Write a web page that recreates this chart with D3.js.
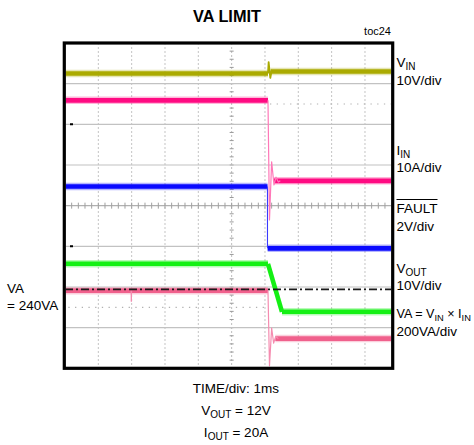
<!DOCTYPE html>
<html><head><meta charset="utf-8">
<script src="https://cdn.jsdelivr.net/npm/d3@7"></script>
<style>
body{margin:0;background:#fff}
svg{display:block}
text{font-family:"Liberation Sans",Arial,sans-serif;fill:#000}
</style>
</head><body>
<svg id="c" width="474" height="445"></svg>
<script>
// ---------------- data ----------------
const timeDomain = [-5, 5];            // ms, 1 ms/div
const divDomain = [-4, 4];             // vertical divisions
const gridTimes = [-4, -3, -2, -1, 1, 2, 3, 4];
const gridDivs = [-3, -2, -1, 1, 2, 3];
const startTime = -5, endTime = 4.8;

const vinLevels = [3.25, 3.30];
const vinTransient = [[1.09, 3.25], [1.11, 3.53], [1.16, 3.14], [1.20, 3.32], [1.24, 3.30]];
const iinLevels = [2.59, 0.61];
const iinTransient = [[1.09, 2.59], [1.135, -0.35], [1.20, 1.08], [1.27, 0.51], [1.33, 0.70], [1.40, 0.58], [1.46, 0.61]];
const faultLevels = [0.47, -1.05];
const faultTransient = [[1.075, 0.47], [1.075, -1.05]];
const voutLevels = [-1.43, -2.61];
const voutTransient = [[1.09, -1.43], [1.51, -2.61]];
const vaLevels = [-2.09, -3.27];
const vaTransient = [[1.09, -2.09], [1.135, -3.94], [1.20, -3.01], [1.26, -3.38], [1.32, -3.22], [1.40, -3.27]];
const vaGlitch = [[-3.02, -2.09], [-3.01, -2.36], [-3.00, -2.09]];
const afterStarts = {vin: 1.17, iin: 1.27, fault: 1.08, vout: 1.51, va: 1.31};
const vaLimitLevel = -2.06;
const halfDivMarks = [[2.5, 1.15, 4.8], [-2.5, -4.9, 1.0]];   // [level, from t, to t]
const groundMarks = [[2, -4.85], [-1, -4.85]];

const titleText = "VA LIMIT";
const tocText = "toc24";
const bottomLines = ["TIME/div: 1ms", ["V", "OUT", " = 12V"], ["I", "OUT", " = 20A"]];

// ---------------- layout ----------------
const svg = d3.select("#c");
const x = d3.scaleLinear().domain(timeDomain).range([65, 398.3]);
const y = d3.scaleLinear().domain(divDomain).range([368.3, 43]);
const frame = {x0: 64.3, x1: 392.7, y0: 43, y1: 368.3};

svg.append("clipPath").attr("id", "clip").append("rect")
  .attr("x", frame.x0 + 1.5).attr("y", frame.y0 + 1.5)
  .attr("width", frame.x1 - frame.x0 - 3).attr("height", frame.y1 - frame.y0 - 3);

const g = svg.append("g").attr("clip-path", "url(#clip)");

// grid: vertical dashed lines
g.selectAll(".vg").data(gridTimes).join("line")
  .attr("x1", d => x(d)).attr("x2", d => x(d))
  .attr("y1", frame.y0).attr("y2", frame.y1)
  .attr("stroke", "#c4c4c4").attr("stroke-width", 1).attr("stroke-dasharray", "2,2");
// center vertical
g.append("line").attr("x1", x(0)).attr("x2", x(0)).attr("y1", frame.y0).attr("y2", frame.y1)
  .attr("stroke", "#bdbdbd").attr("stroke-width", 1).attr("stroke-dasharray", "2,2");
const minorDivs = d3.range(-4, 4.001, 0.2);
g.selectAll(".vt").data(minorDivs).join("line")
  .attr("x1", x(0) - 2).attr("x2", x(0) + 2)
  .attr("y1", d => y(d)).attr("y2", d => y(d))
  .attr("stroke", "#9a9a9a").attr("stroke-width", 1);
// horizontal grid
g.selectAll(".hg").data(gridDivs).join("line")
  .attr("x1", frame.x0).attr("x2", frame.x1)
  .attr("y1", d => y(d)).attr("y2", d => y(d))
  .attr("stroke", "#c2c2c2").attr("stroke-width", 1.2);
g.append("line").attr("x1", frame.x0).attr("x2", frame.x1).attr("y1", y(0)).attr("y2", y(0))
  .attr("stroke", "#b0b0b0").attr("stroke-width", 1.4);
const minorTimes = d3.range(-5, 5.001, 0.2);
g.selectAll(".ht").data(minorTimes).join("line")
  .attr("x1", d => x(d)).attr("x2", d => x(d))
  .attr("y1", y(0) - 3).attr("y2", y(0) + 3)
  .attr("stroke", "#a0a0a0").attr("stroke-width", 1);
// half-division dotted marks
g.selectAll(".hd").data(halfDivMarks).join("line")
  .attr("x1", d => x(d[1])).attr("x2", d => x(d[2]))
  .attr("y1", d => y(d[0])).attr("y2", d => y(d[0]))
  .attr("stroke", "#b0b0b0").attr("stroke-width", 1.2).attr("stroke-dasharray", "1.3,5.4");
// ground markers
g.selectAll(".gm").data(groundMarks).join("line")
  .attr("x1", d => x(d[1])).attr("x2", d => x(d[1]) + 3)
  .attr("y1", d => y(d[0])).attr("y2", d => y(d[0]))
  .attr("stroke", "#000").attr("stroke-width", 2);

// traces
const line = d3.line().x(d => x(d[0])).y(d => y(d[1]));
function trace(levels, transient, color, thinColor, thinWidth, afterStart) {
  const t0 = transient[0][0];
  const before = [[startTime, levels[0]], [t0, levels[0]]];
  const after = [[afterStart, levels[1]], [endTime, levels[1]]];
  [before, after].forEach(seg => {
    g.append("path").attr("d", line(seg)).attr("fill", "none")
      .attr("stroke", color).attr("stroke-width", 7.5).attr("stroke-opacity", 0.3);
    g.append("path").attr("d", line(seg)).attr("fill", "none")
      .attr("stroke", color).attr("stroke-width", 4.6);
  });
  g.append("path").attr("d", line(transient)).attr("fill", "none")
    .attr("stroke", thinColor).attr("stroke-width", thinWidth).attr("stroke-linejoin", "round");
}
trace(vinLevels, vinTransient, "#aaaa00", "#aaaa00", 1.8, afterStarts.vin);
trace(iinLevels, iinTransient, "#ff0a82", "#ff78b8", 1.2, afterStarts.iin);
trace(faultLevels, faultTransient, "#0a0aff", "#3a3aff", 1.1, afterStarts.fault);
trace(voutLevels, voutTransient, "#14f014", "#14f014", 4.6, afterStarts.vout);
trace(vaLevels, vaTransient, "#f0608c", "#f58cb0", 1.2, afterStarts.va);
g.append("path").attr("d", line(vaGlitch)).attr("fill", "none")
  .attr("stroke", "#f58cb0").attr("stroke-width", 1);
// VA limit dash-dot
g.append("line").attr("x1", x(startTime)).attr("x2", x(endTime))
  .attr("y1", y(vaLimitLevel)).attr("y2", y(vaLimitLevel))
  .attr("stroke", "#1a1a1a").attr("stroke-width", 1.6).attr("stroke-dasharray", "8,3,2,3");

// frame
svg.append("rect").attr("x", frame.x0).attr("y", frame.y0)
  .attr("width", frame.x1 - frame.x0).attr("height", frame.y1 - frame.y0)
  .attr("fill", "none").attr("stroke", "#000").attr("stroke-width", 3.2);

// ---------------- text ----------------
svg.append("text").attr("x", 227).attr("y", 22).attr("text-anchor", "middle")
  .attr("font-size", 17).attr("font-weight", "bold")
  .attr("textLength", 68).attr("lengthAdjust", "spacingAndGlyphs").text(titleText);
svg.append("text").attr("x", 391).attr("y", 35).attr("text-anchor", "end")
  .attr("font-size", 11).text(tocText);

const FS = 13.5, SUB = 10;
function subText(xp, yp, parts, anchor, fs) {
  const t = svg.append("text").attr("x", xp).attr("y", yp).attr("font-size", fs || FS)
    .attr("text-anchor", anchor || "start");
  parts.forEach(p => {
    if (typeof p === "string") t.append("tspan").text(p);
    else t.append("tspan").attr("dy", p.dy).attr("font-size", p.s || fs || FS).text(p.t);
  });
  return t;
}
const LX = 396.5;
subText(LX, 67, ["V", {t: "IN", dy: 3, s: SUB}]);
subText(LX, 85, ["10V/div"]);
subText(LX, 155, ["I", {t: "IN", dy: 3, s: SUB}]);
subText(LX, 172, ["10A/div"]);
const ft = subText(LX, 213, ["FAULT"]);
const fw = ft.node().getComputedTextLength();
svg.append("line").attr("x1", LX).attr("x2", LX + fw).attr("y1", 199.5).attr("y2", 199.5)
  .attr("stroke", "#000").attr("stroke-width", 1);
subText(LX, 231, ["2V/div"]);
subText(LX, 273, ["V", {t: "OUT", dy: 3, s: SUB}]);
subText(LX, 290, ["10V/div"]);
subText(LX, 318, ["VA = V", {t: "IN", dy: 3, s: 9.3}, {t: " × I", dy: -3}, {t: "IN", dy: 3, s: 9.3}], "start", 12.6);
subText(LX, 336, ["200VA/div"]);

subText(7, 293, ["VA"]);
subText(7, 310, ["= 240VA"]);

subText(236, 393, [bottomLines[0]], "middle");
subText(236, 415, [bottomLines[1][0], {t: bottomLines[1][1], dy: 3, s: SUB}, {t: bottomLines[1][2], dy: -3}], "middle");
subText(236, 437, [bottomLines[2][0], {t: bottomLines[2][1], dy: 3, s: SUB}, {t: bottomLines[2][2], dy: -3}], "middle");
</script>
</body></html>
